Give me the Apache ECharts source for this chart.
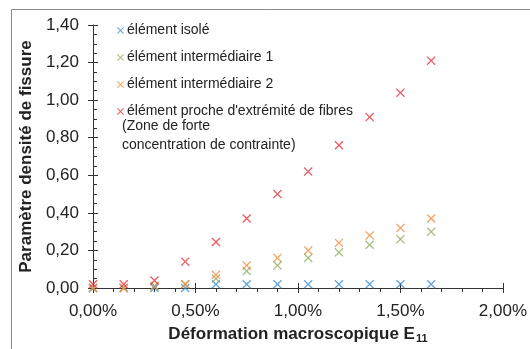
<!DOCTYPE html>
<html>
<head>
<meta charset="utf-8">
<script src="https://cdn.jsdelivr.net/npm/echarts@6/dist/echarts.min.js"></script>
<style>html,body{margin:0;padding:0;background:#fff}#c{width:530px;height:349px}</style>
</head>
<body>
<div id="c"></div>
<script>
var strain = [0, 0.15, 0.30, 0.45, 0.60, 0.75, 0.90, 1.05, 1.20, 1.35, 1.50, 1.65];
var isole = [0, 0, 0, 0, 0.02, 0.02, 0.02, 0.02, 0.02, 0.02, 0.02, 0.02];
var inter1 = [0, 0, 0.01, 0.02, 0.05, 0.09, 0.12, 0.16, 0.19, 0.23, 0.26, 0.30];
var inter2 = [0, 0, 0.01, 0.02, 0.07, 0.12, 0.16, 0.20, 0.24, 0.28, 0.32, 0.37];
var proche = [0.02, 0.02, 0.04, 0.14, 0.245, 0.37, 0.50, 0.62, 0.76, 0.91, 1.04, 1.21];
var seriesNames = ['élément isolé', 'élément intermédiaire 1', 'élément intermédiaire 2', "élément proche d'extrémité de fibres"];
var legendExtra = '(Zone de forte\nconcentration de contrainte)';
var colors = ['#3f8dd0', '#8fac5c', '#f0893e', '#e8303c'];

var xSym = 'path://M0,1L1,0L5,4L9,0L10,1L6,5L10,9L9,10L5,6L1,10L0,9L4,5Z';
function pairs(ys) { return strain.map(function (x, i) { return [x, ys[i]]; }); }
var allY = [isole, inter1, inter2, proche];

var font = 'Liberation Sans, Arial, sans-serif';
var chart = echarts.init(document.getElementById('c'));
var axisLine = { lineStyle: { color: '#333', width: 1 } };
chart.setOption({
  animation: false,
  backgroundColor: '#fff',
  color: colors,
  grid: { left: 93, right: 23, top: 25, bottom: 56 },
  graphic: [
    { type: 'rect', shape: { x: 11.5, y: 9.5, width: 540, height: 360 }, style: { fill: 'none', stroke: '#8a8a8a', lineWidth: 1 }, z: -1 },
    { type: 'text', left: 122, top: 117, style: { text: legendExtra, fill: '#222', font: '14px ' + font, lineHeight: 18.5 } }
  ],
  legend: {
    orient: 'vertical', left: 112, top: 18, itemWidth: 7, itemHeight: 7, itemGap: 12,
    textStyle: { fontFamily: font, fontSize: 14, color: '#222', lineHeight: 15, padding: [0, 0, 0, -2] },
    data: seriesNames
  },
  xAxis: [{
    type: 'value', min: 0, max: 2, interval: 0.5, position: 'bottom',
    axisLine: axisLine,
    axisTick: { show: true, inside: false, length: 5, lineStyle: { color: '#333' } },
    minorTick: { show: true, splitNumber: 5, length: 4, lineStyle: { color: '#333' } },
    splitLine: { show: false },
    axisLabel: { fontFamily: font, fontSize: 17, color: '#222', margin: 15, formatter: function (v) { return v.toFixed(2).replace('.', ',') + '%'; } },
    name: '{t|Déformation macroscopique E}{s|11}', nameLocation: 'middle', nameGap: 37,
    nameTextStyle: { rich: { t: { fontFamily: font, fontSize: 17, fontWeight: 'bold', color: '#222' }, s: { fontFamily: font, fontSize: 11, fontWeight: 'bold', color: '#222', verticalAlign: 'bottom', padding: [8, 0, 0, 1] } } }
  }, {
    type: 'value', min: 0, max: 2, interval: 0.5, position: 'bottom',
    axisLine: { show: false },
    axisTick: { show: true, inside: true, length: 5, lineStyle: { color: '#333' } },
    splitLine: { show: false }, axisLabel: { show: false }
  }],
  yAxis: [{
    type: 'value', min: 0, max: 1.4, interval: 0.2, position: 'left',
    axisLine: axisLine,
    axisTick: { show: true, inside: false, length: 5, lineStyle: { color: '#333' } },
    splitLine: { show: false },
    axisLabel: { fontFamily: font, fontSize: 17, color: '#222', margin: 14, formatter: function (v) { return v.toFixed(2).replace('.', ','); } },
    name: 'Paramètre densité de fissure', nameLocation: 'middle', nameGap: 52, nameRotate: 90,
    nameTextStyle: { fontFamily: font, fontSize: 17, fontWeight: 'bold', color: '#222' }
  }, {
    type: 'value', min: 0, max: 1.4, interval: 0.2, position: 'left',
    axisLine: { show: false },
    axisTick: { show: true, inside: true, length: 5, lineStyle: { color: '#333' } },
    minorTick: { show: true, splitNumber: 4, length: 4, lineStyle: { color: '#333' } },
    splitLine: { show: false }, axisLabel: { show: false }
  }],
  series: seriesNames.map(function (n, i) {
    return { name: n, type: 'scatter', symbol: xSym, symbolSize: 9, xAxisIndex: 0, yAxisIndex: 0, data: pairs(allY[i]), z: 2 + i };
  })
});
</script>
</body>
</html>
